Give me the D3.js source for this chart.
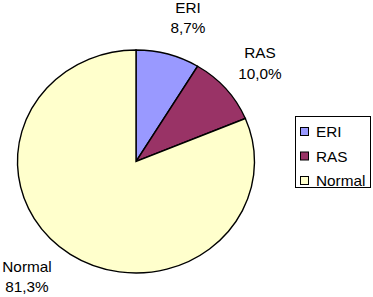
<!DOCTYPE html>
<html>
<head>
<meta charset="utf-8">
<script src="https://cdn.jsdelivr.net/npm/d3@7/dist/d3.min.js"></script>
<style>
  html, body { margin: 0; padding: 0; background: #fff; }
  text { font-family: "Liberation Sans", Arial, sans-serif; fill: #000; }
</style>
</head>
<body>
<svg id="chart" width="373" height="297"></svg>
<script>
const categories = ["ERI", "RAS", "Normal"];
const values = [8.7, 10.0, 81.3];
const valueLabels = ["8,7%", "10,0%", "81,3%"];
const colors = ["#9999FF", "#993366", "#FFFFCC"];

const svg = d3.select("#chart");
const cx = 136, cy = 161.5, rx = 118.5, ry = 111.5;
const sx = 1.08;

function addText(sel, x, y, str, anchor) {
  return sel.append("text")
    .attr("transform", `translate(${x},${y}) scale(${sx},1)`)
    .attr("text-anchor", anchor || "start")
    .attr("font-size", 14.2)
    .text(str);
}

const data = categories.map((c, i) => ({ name: c, value: values[i], label: valueLabels[i], color: colors[i] }));
const pie = d3.pie().value(d => d.value).sort(null);
const arcs = pie(data);
const arc = d3.arc().innerRadius(0).outerRadius(rx);

const g = svg.append("g").attr("transform", `translate(${cx},${cy}) scale(1,${ry / rx})`);
g.selectAll("path").data(arcs).enter().append("path")
  .attr("d", arc)
  .attr("fill", d => d.data.color)
  .attr("stroke", "#000")
  .attr("stroke-width", 1.4)
  .attr("vector-effect", "non-scaling-stroke")
  .attr("stroke-linejoin", "miter");

// data labels
const labelPos = [
  { x: 188, y1: 13, y2: 33 },
  { x: 260, y1: 58, y2: 79 },
  { x: 27, y1: 272, y2: 292 }
];
arcs.forEach((a, i) => {
  const p = labelPos[i];
  addText(svg, p.x, p.y1, a.data.name, "middle");
  addText(svg, p.x, p.y2, a.data.label, "middle");
});

// legend
const lg = svg.append("g");
lg.append("rect").attr("x", 295.5).attr("y", 116.5).attr("width", 75).attr("height", 71)
  .attr("fill", "#fff").attr("stroke", "#000").attr("stroke-width", 1);
const ly = d3.scalePoint().domain(categories).range([128, 177]);
categories.forEach((c, i) => {
  lg.append("rect").attr("x", 300.5).attr("y", ly(c) - 0.5).attr("width", 8).attr("height", 8)
    .attr("fill", colors[i]).attr("stroke", "#000").attr("stroke-width", 1);
  addText(lg, 316, ly(c) + 9, c, "start");
});
</script>
</body>
</html>
